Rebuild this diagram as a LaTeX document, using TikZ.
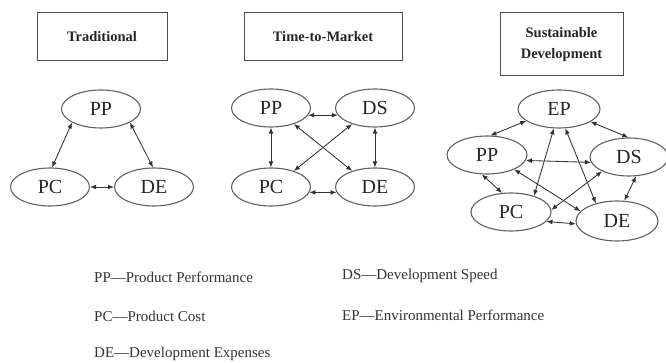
\documentclass[tikz,border=0pt]{standalone}
\usepackage{fontspec}
\setmainfont{Liberation Serif}
\usetikzlibrary{shapes.geometric,arrows.meta}
\begin{document}
\begin{tikzpicture}[x=1pt,y=-1pt,
  titlebox/.style={draw=black!70,line width=1pt,minimum height=48pt,inner sep=2pt,
    font=\bfseries\fontsize{14.5}{21}\selectfont,text=black!85,align=center},
  factor/.style={ellipse,draw=black!62,line width=1.1pt,minimum width=79pt,minimum height=38pt,
    inner sep=0pt,font=\fontsize{20}{24}\selectfont,text=black!85},
  link/.style={arrows={Latex[length=6pt,width=4.8pt]-Latex[length=6pt,width=4.8pt]},line width=0.85pt,draw=black!80},
  legend/.style={anchor=west,inner sep=0pt,font=\fontsize{15}{17}\selectfont,text=black!80}]
\useasboundingbox (0,0) rectangle (666,363);
\fill[white] (0,0) rectangle (666,363);

% headings
\node[titlebox,minimum width=130pt] (t1) at (102,37) {Traditional};
\node[titlebox,minimum width=158pt] (t2) at (323,37) {Time-to-Market};
\node[titlebox,minimum width=123pt,minimum height=63pt] (t3) at (561.5,44.5) {Sustainable\\Development};

% traditional view
\node[factor] (pp1) at (101,109) {PP};
\node[factor] (pc1) at (50,187) {PC};
\node[factor] (de1) at (154,187) {DE};
\draw[link] (pp1.205) -- (pc1.84);
\draw[link] (pp1.335) -- (de1.93);
\draw[link] (pc1.east) -- (de1.west);

% time-to-market view
\node[factor] (pp2) at (271,108) {PP};
\node[factor] (ds2) at (375,108) {DS};
\node[factor] (pc2) at (271,187) {PC};
\node[factor] (de2) at (375,187) {DE};
\draw[link] (pp2.-11) -- (ds2.191);
\draw[link] (pc2.-8) -- (de2.188);
\draw[link] (pp2.south) -- (pc2.north);
\draw[link] (ds2.south) -- (de2.north);
\draw[link] (pp2.-35) -- (de2.145);
\draw[link] (ds2.215) -- (pc2.35);

% sustainable development view
\node[factor,minimum width=82pt] (ep3) at (559,109) {EP};
\node[factor,minimum width=80pt] (pp3) at (487,155) {PP};
\node[factor,minimum width=78pt] (ds3) at (629,157) {DS};
\node[factor,minimum width=80pt] (pc3) at (511,212) {PC};
\node[factor,minimum width=82pt,minimum height=40pt] (de3) at (617,221) {DE};
\draw[link] (ep3.200) -- (pp3.80);
\draw[link] (ep3.-22) -- (ds3.92);
\draw[link] (ep3.255) -- (pc3.35);
\draw[link] (ep3.-72) -- (de3.140);
\draw[link] (pp3.-8) -- (ds3.188);
\draw[link] (pp3.255) -- (pc3.115);
\draw[link] (pp3.-28) -- (de3.165);
\draw[link] (ds3.208) -- (pc3.3);
\draw[link] (ds3.290) -- (de3.70);
\draw[link] (pc3.-15) -- (de3.184);

% abbreviations
\node[legend] (l1) at (94,277) {PP—Product Performance};
\node[legend] (l2) at (94,316) {PC—Product Cost};
\node[legend] (l3) at (94,354) {DE—Development Expenses};
\node[legend] (l4) at (342,276) {DS—Development Speed};
\node[legend] (l5) at (342,315) {EP—Environmental Performance};
\end{tikzpicture}
\end{document}
